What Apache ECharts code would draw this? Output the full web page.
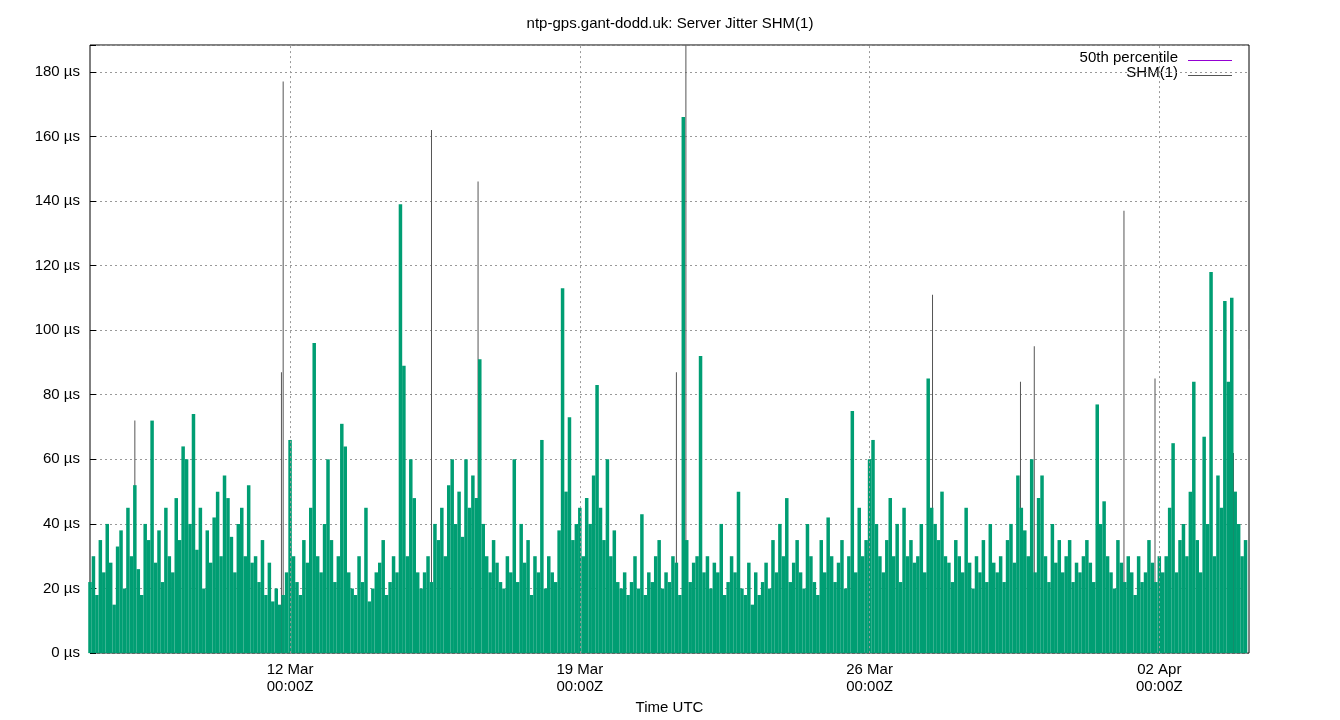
<!DOCTYPE html>
<html>
<head>
<meta charset="utf-8">
<title></title>
<script src="https://cdn.jsdelivr.net/npm/echarts@6/dist/echarts.min.js"></script>
<style>body{margin:0}#chart{width:1340px;height:720px}</style>
</head>
<body>
<div id="chart"></div>
<script>
// jitter samples, one per 2 hours starting 7 Mar 04:00Z (µs)
var startTime = Date.UTC(2023, 2, 7, 4, 0);
var stepMs = 2 * 3600 * 1000;
var jitterValues = [
  22,30,18,35,25,40,28,15,33,38,20,45,30,52,26,18,40,35,72,28,38,22,45,30,
  25,48,35,64,60,40,74,32,45,20,38,28,42,50,30,55,48,36,25,40,45,30,52,28,
  30,22,35,18,28,16,20,15,18,25,66,30,22,18,35,28,45,96,30,25,40,60,35,22,
  30,71,64,25,20,18,30,22,45,16,20,25,28,35,18,22,30,25,139,89,30,60,48,25,
  20,25,30,22,40,35,45,30,52,60,40,50,36,60,45,55,48,91,40,30,25,35,28,22,
  20,30,25,60,22,40,28,35,18,30,25,66,20,30,25,22,38,113,50,73,35,40,45,30,
  48,40,55,83,45,35,60,30,38,22,20,25,18,22,30,20,43,18,25,22,30,35,20,25,
  22,30,28,18,166,35,22,28,30,92,25,30,20,28,25,40,18,22,30,25,50,20,18,28,
  15,25,18,22,28,20,35,25,40,30,48,22,28,35,25,20,40,30,22,18,35,25,42,30,
  22,28,35,20,30,75,25,45,30,35,60,66,40,30,25,35,48,30,40,22,45,30,35,28,
  30,40,25,85,45,40,35,50,30,28,22,35,30,25,45,28,20,30,25,35,22,40,28,25,
  30,22,35,40,28,55,45,38,30,60,25,48,55,30,22,40,28,35,25,30,35,22,28,25,
  30,35,28,22,77,40,47,30,25,20,35,28,22,30,25,18,30,22,25,35,28,22,30,25,
  30,45,65,25,35,40,30,50,84,35,25,67,40,118,30,55,45,109,84,110,50,40,30,35
];
// tall single SHM(1) spikes
var spikeTimes = ['2023-03-08T06:00Z','2023-03-11T19:00Z','2023-03-11T20:00Z','2023-03-15T10:00Z',
  '2023-03-16T13:00Z','2023-03-21T08:00Z','2023-03-21T13:30Z','2023-03-27T12:30Z',
  '2023-03-29T15:30Z','2023-03-29T23:30Z','2023-04-01T03:30Z','2023-04-01T21:30Z','2023-04-03T19:00Z'];
var spikeValues = [72,87,177,162,146,87,190,111,84,95,137,85,62];
var tickDates = ['2023-03-12T00:00Z','2023-03-19T00:00Z','2023-03-26T00:00Z','2023-04-02T00:00Z'];

var months = ['Jan','Feb','Mar','Apr','May','Jun','Jul','Aug','Sep','Oct','Nov','Dec'];
var xMin = startTime, xMax = Date.UTC(2023, 3, 4, 4, 0);
var tickMs = tickDates.map(function (d) { return Date.parse(d); });

var greenData = jitterValues.map(function (v, i) { return [startTime + i * stepMs, v]; });
var grayData = spikeTimes.map(function (t, i) { return [Date.parse(t), spikeValues[i]]; });

var font = 'Liberation Sans';
var xAxisBase = {
  type: 'value', min: xMin, max: xMax,
  axisLine: { show: false }, splitLine: { show: false }
};
var option = {
  animation: false,
  textStyle: { fontFamily: font },
  title: { text: 'ntp-gps.gant-dodd.uk: Server Jitter SHM(1)', left: 'center', top: 11,
    textStyle: { fontSize: 15, fontWeight: 'normal', color: '#000', fontFamily: font } },
  grid: { left: 90, right: 91, top: 45, bottom: 64, show: true, borderColor: '#000', borderWidth: 1 },
  xAxis: [
    Object.assign({}, xAxisBase, {
      name: 'Time UTC', nameLocation: 'middle', nameGap: 42,
      nameTextStyle: { fontSize: 15, color: '#000' },
      axisTick: { inside: true, length: 6, lineStyle: { color: '#000' }, customValues: tickMs },
      axisLabel: { color: '#000', fontSize: 15, lineHeight: 17, customValues: tickMs,
        formatter: function (v) {
          var d = new Date(v);
          var dd = d.getUTCDate(); dd = dd < 10 ? '0' + dd : dd;
          return dd + ' ' + months[d.getUTCMonth()] + '\n00:00Z';
        } }
    }),
    Object.assign({}, xAxisBase, { show: false })
  ],
  yAxis: {
    type: 'value', min: 0, max: 188.3, interval: 20,
    axisLine: { show: false },
    axisTick: { inside: true, length: 6, lineStyle: { color: '#000' } },
    axisLabel: { color: '#000', fontSize: 15, margin: 10, padding: [4, 0, 0, 0],
      formatter: function (v) { return v > 185 ? '' : v + ' µs'; } },
    splitLine: { lineStyle: { color: '#999', type: [2, 3] } }
  },
  series: [
    {
      name: 'SHM(1)', type: 'bar', xAxisIndex: 1, barWidth: 1,
      itemStyle: { color: '#555' }, data: grayData, z: 2,
      markLine: {
        silent: true, symbol: 'none', label: { show: false },
        lineStyle: { color: '#999', type: [2, 3], width: 1 },
        data: tickMs.map(function (t) { return { xAxis: t }; })
      }
    },
    {
      name: 'jitter', type: 'bar', xAxisIndex: 0, barWidth: 3.5,
      itemStyle: { color: '#009e73' }, data: greenData, z: 3
    }
  ],
  graphic: [
    { type: 'text', right: 162, top: 50, style: { text: '50th percentile', fontSize: 15, fill: '#000', fontFamily: font } },
    { type: 'line', shape: { x1: 1188, y1: 60.5, x2: 1232, y2: 60.5 }, style: { stroke: '#9400d3', lineWidth: 1 } },
    { type: 'text', right: 162, top: 65, style: { text: 'SHM(1)', fontSize: 15, fill: '#000', fontFamily: font } },
    { type: 'line', shape: { x1: 1188, y1: 75.5, x2: 1232, y2: 75.5 }, style: { stroke: '#555', lineWidth: 1 } }
  ]
};
var chart = echarts.init(document.getElementById('chart'));
chart.setOption(option);
</script>
</body>
</html>
